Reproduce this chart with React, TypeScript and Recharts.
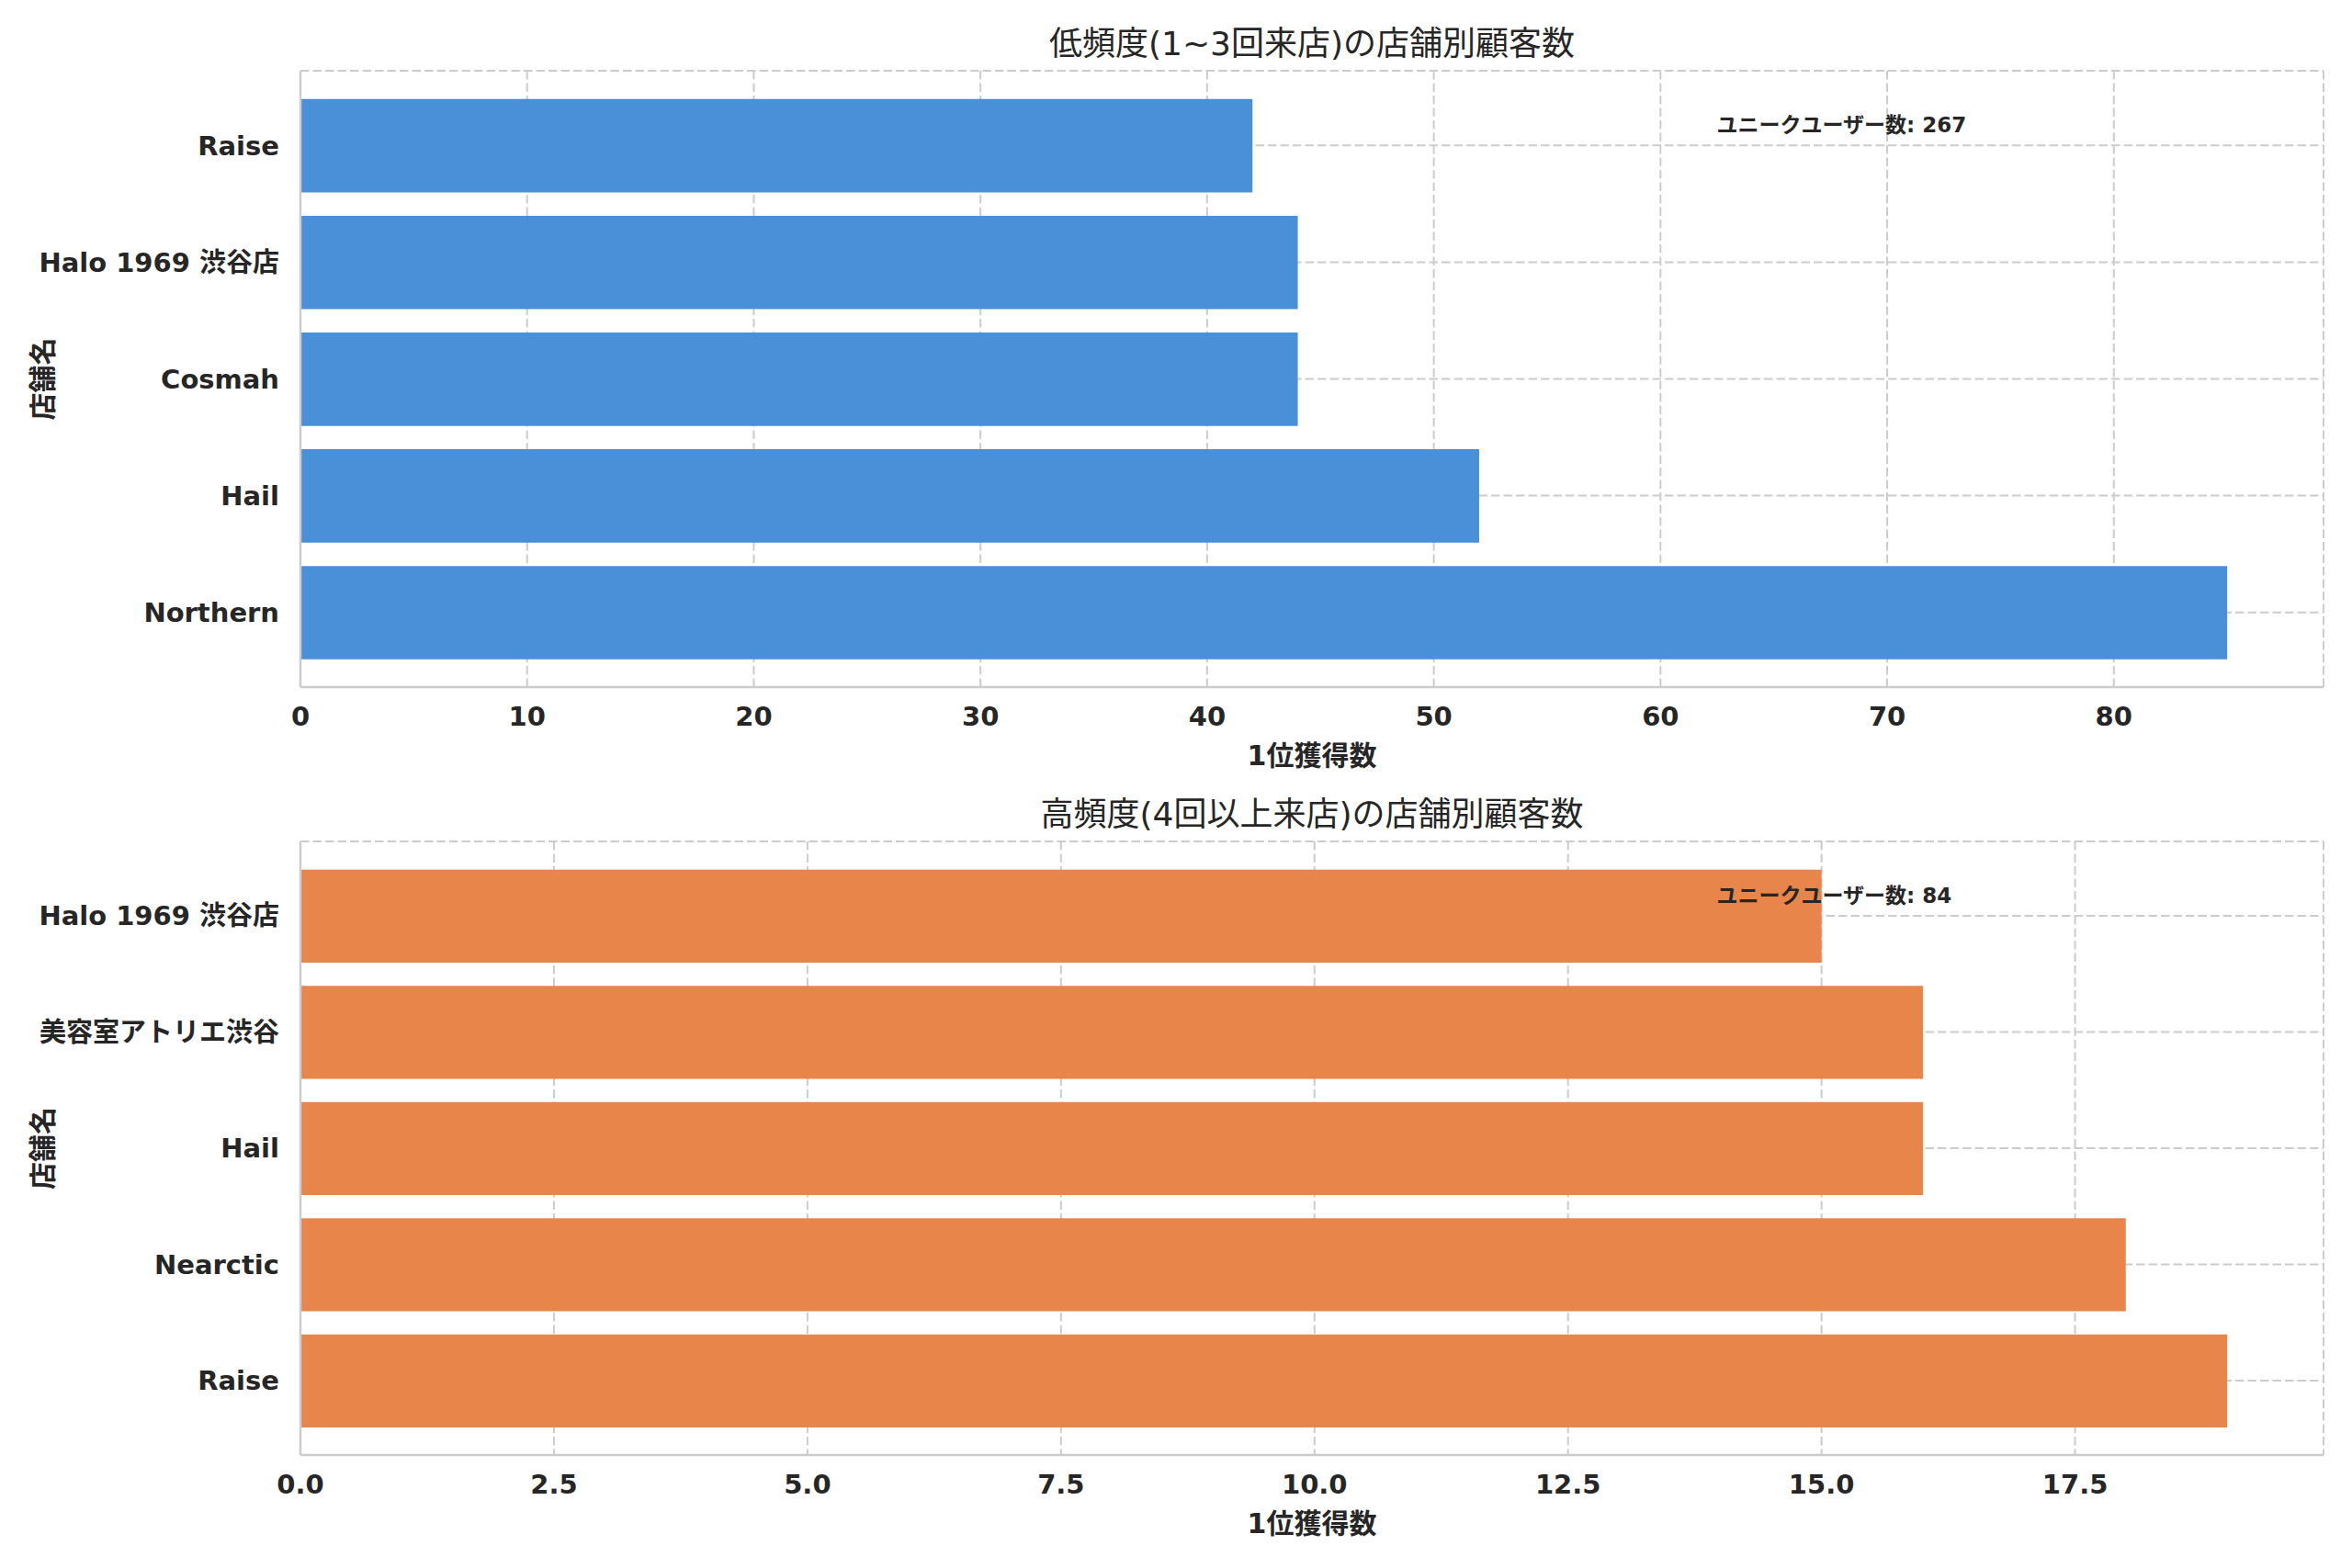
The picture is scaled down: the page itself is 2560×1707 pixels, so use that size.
import React from 'react';
import { BarChart, Bar, XAxis, YAxis, CartesianGrid } from 'recharts';

// data, listed largest first (drawn from the bottom up like the original barh)
const lightBrands = ['Northern', 'Hail', 'Cosmah', 'Halo 1969 渋谷店', 'Raise'];
const lightCounts = [85, 52, 44, 44, 42];
const lightTicks = [0, 10, 20, 30, 40, 50, 60, 70, 80];

const heavyBrands = ['Raise', 'Nearctic', 'Hail', '美容室アトリエ渋谷', 'Halo 1969 渋谷店'];
const heavyCounts = [19, 18, 16, 16, 15];
const heavyTicks = [0, 2.5, 5, 7.5, 10, 12.5, 15, 17.5];

const FONT = "'DejaVu Sans', 'Noto Sans CJK JP', sans-serif";
const INK = '#262626';
const GRID = '#cccccc';
const frame = { stroke: GRID, strokeWidth: 2.5 };

const LEFT = 327;
const RIGHT = 31;
const WIDTH = 2560;

interface PanelProps {
    brands: string[];
    counts: number[];
    ticks: number[];
    decimals: number;
    color: string;
    title: string;
    top: number;
    height: number;
    marginTop: number;
    axisHeight: number;
}

const Panel: React.FC<PanelProps> = ({ brands, counts, ticks, decimals, color, title, top, height, marginTop, axisHeight }) => {
    const data = brands.map((name, i) => ({ name, count: counts[i] }));
    const total = counts.reduce((a, b) => a + b, 0);
    const xMax = Math.max(...counts) * 1.05;
    const plotW = WIDTH - LEFT - RIGHT;
    const plotH = height - marginTop - axisHeight;
    // matplotlib: 5 bars of height 0.8 with y limits -0.64 .. 4.64
    const step = plotH / 5.28;
    const pad = step * 0.14;
    const tickStyle = { fill: INK, fontSize: 29, fontWeight: 'bold', fontFamily: FONT };

    return (
        <div style={{ position: 'absolute', left: 0, top, width: WIDTH, height }}>
            <BarChart
                width={WIDTH}
                height={height}
                data={data}
                layout="vertical"
                margin={{ top: marginTop, right: RIGHT, bottom: 0, left: 0 }}
                barSize={step * 0.8}
            >
                <CartesianGrid stroke={GRID} strokeWidth={2} strokeDasharray="9.5 4" />
                <XAxis
                    type="number"
                    domain={[0, xMax]}
                    ticks={ticks}
                    allowDataOverflow
                    height={axisHeight}
                    tickLine={false}
                    tickSize={0}
                    tickMargin={21}
                    axisLine={frame}
                    tick={tickStyle}
                    tickFormatter={(v: number) => v.toFixed(decimals)}
                    label={{
                        content: ({ viewBox }: any) => (
                            <text
                                x={viewBox.x + viewBox.width / 2}
                                y={viewBox.y + 74}
                                textAnchor="middle"
                                dominantBaseline="central"
                                fill={INK}
                                fontSize={30}
                                fontWeight="bold"
                                fontFamily={FONT}
                            >
                                1位獲得数
                            </text>
                        ),
                    }}
                />
                <YAxis
                    type="category"
                    dataKey="name"
                    reversed
                    interval={0}
                    width={LEFT}
                    padding={{ top: pad, bottom: pad }}
                    tickLine={false}
                    tickSize={0}
                    tickMargin={23}
                    axisLine={frame}
                    tick={tickStyle}
                    label={{
                        content: ({ viewBox }: any) => {
                            const cy = viewBox.y + viewBox.height / 2;
                            return (
                                <text
                                    x={46}
                                    y={cy}
                                    transform={`rotate(-90 46 ${cy})`}
                                    textAnchor="middle"
                                    dominantBaseline="central"
                                    fill={INK}
                                    fontSize={30}
                                    fontWeight="bold"
                                    fontFamily={FONT}
                                >
                                    店舗名
                                </text>
                            );
                        },
                    }}
                />
                <Bar dataKey="count" fill={color} isAnimationActive={false} />
                {/* top + right spines */}
                <XAxis
                    xAxisId="top"
                    orientation="top"
                    type="number"
                    domain={[0, xMax]}
                    allowDataOverflow
                    height={0}
                    tick={false}
                    tickLine={false}
                    axisLine={frame}
                />
                <YAxis
                    yAxisId="right"
                    orientation="right"
                    type="category"
                    dataKey="name"
                    width={0}
                    tick={false}
                    tickLine={false}
                    axisLine={frame}
                />
            </BarChart>
            <div
                style={{
                    position: 'absolute',
                    left: LEFT,
                    width: plotW,
                    top: marginTop - 29,
                    transform: 'translateY(-50%)',
                    textAlign: 'center',
                    fontFamily: FONT,
                    fontSize: 36,
                    color: INK,
                    lineHeight: 1.2,
                    whiteSpace: 'nowrap',
                }}
            >
                {title}
            </div>
            <div
                style={{
                    position: 'absolute',
                    left: LEFT + plotW * 0.7,
                    top: marginTop + 60,
                    transform: 'translateY(-50%)',
                    fontFamily: FONT,
                    fontSize: 23,
                    fontWeight: 'bold',
                    color: INK,
                    lineHeight: 1.2,
                    whiteSpace: 'nowrap',
                }}
            >
                {`ユニークユーザー数: ${total}`}
            </div>
        </div>
    );
};

export default function App() {
    return (
        <div style={{ position: 'absolute', left: 0, top: 0, width: WIDTH, height: 1707, background: '#ffffff' }}>
            <Panel
                brands={lightBrands}
                counts={lightCounts}
                ticks={lightTicks}
                decimals={0}
                color="#4a90d9"
                title="低頻度(1~3回来店)の店舗別顧客数"
                top={0}
                height={854}
                marginTop={77}
                axisHeight={106}
            />
            <Panel
                brands={heavyBrands}
                counts={heavyCounts}
                ticks={heavyTicks}
                decimals={1}
                color="#e8854b"
                title="高頻度(4回以上来店)の店舗別顧客数"
                top={854}
                height={853}
                marginTop={62}
                axisHeight={123}
            />
        </div>
    );
}
